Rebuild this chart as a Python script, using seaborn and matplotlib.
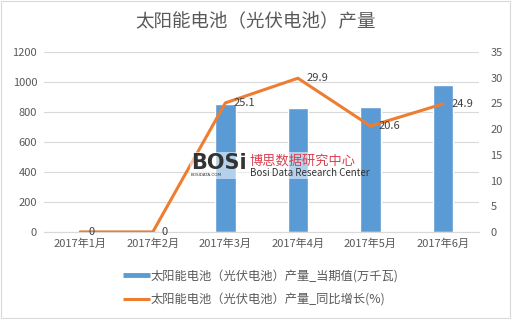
import numpy as np
import pandas as pd
import matplotlib
matplotlib.use("Agg")
import matplotlib.pyplot as plt
import seaborn as sns
from matplotlib.patches import Rectangle
from matplotlib.lines import Line2D

sns.set_style("white")
plt.rcParams['font.family'] = ['Noto Sans CJK SC', 'DejaVu Sans']

months = ["2017年1月", "2017年2月", "2017年3月", "2017年4月", "2017年5月", "2017年6月"]
output_vals = [0, 0, 850, 826, 833, 980]
growth_vals = [0, 0, 25.1, 29.9, 20.6, 24.9]
growth_labels = ["0", "0", "25.1", "29.9", "20.6", "24.9"]
bar_name = "太阳能电池（光伏电池）产量_当期值(万千瓦)"
line_name = "太阳能电池（光伏电池）产量_同比增长(%)"
title = "太阳能电池（光伏电池）产量"

df = pd.DataFrame({"month": months, "output": output_vals, "growth": growth_vals})

bar_color = "#5B9BD5"
line_color = "#ED7D31"
txt = "#595959"

fig = plt.figure(figsize=(5.12, 3.19), dpi=100)
ax = fig.add_axes([0.086, 0.273, 0.85, 0.564])
sns.barplot(data=df, x="month", y="output", color=bar_color, width=0.28,
            saturation=1, ax=ax)
ax.set_ylim(0, 1200)
ax.set_yticks(np.arange(0, 1201, 200))
ax.set_xlim(-0.5, 5.5)
ax.set_xlabel("")
ax.set_ylabel("")
ax.grid(axis="y", color="#D9D9D9", linewidth=0.8)
ax.set_axisbelow(True)
for s in ["top", "right", "left"]:
    ax.spines[s].set_visible(False)
ax.spines["bottom"].set_color("#D9D9D9")
ax.tick_params(axis="both", length=0, labelsize=8, colors=txt, pad=5)

ax2 = ax.twinx()
xpos = np.arange(len(months))
sns.lineplot(x=xpos, y=df["growth"].values, color=line_color, linewidth=2.2, ax=ax2)
ax2.set_ylim(0, 35)
ax2.set_yticks(np.arange(0, 36, 5))
ax2.set_xlim(-0.5, 5.5)
for s in ["top", "right", "left", "bottom"]:
    ax2.spines[s].set_visible(False)
ax2.tick_params(axis="y", length=0, labelsize=8, colors=txt, pad=8)
ax2.set_ylabel("")
for x, v, lab in zip(xpos, growth_vals, growth_labels):
    ax2.annotate(lab, (x, v), xytext=(6, 0), textcoords="offset points",
                 ha="left", va="center", fontsize=8, color="#404040")

fig.text(0.5, 0.93, title, ha="center", va="center", fontsize=13.3, color=txt)

# watermark
fig.patches.append(Rectangle((0.372, 0.44), 0.325, 0.085, transform=fig.transFigure,
                             facecolor="white", edgecolor="none", alpha=0.55, zorder=5))
fig.text(0.373, 0.49, "BOSi", fontsize=15, fontweight="bold", color="#333333",
         ha="left", va="center", family="DejaVu Sans", zorder=6)
fig.text(0.373, 0.452, "BOSIDATA.COM", fontsize=3, color="#333333",
         ha="left", va="center", family="DejaVu Sans", zorder=6)
fig.text(0.488, 0.495, "博思数据研究中心", fontsize=9.5, color="#D9414F",
         ha="left", va="center", zorder=6)
fig.text(0.488, 0.457, "Bosi Data Research Center", fontsize=7, color="#333333",
         ha="left", va="center", zorder=6)

handles = [Line2D([0], [0], color=bar_color, linewidth=3.5, solid_capstyle="butt"),
           Line2D([0], [0], color=line_color, linewidth=2.2, solid_capstyle="butt")]
fig.legend(handles, [bar_name, line_name], loc="upper left",
           bbox_to_anchor=(0.24, 0.155), frameon=False, fontsize=8.8,
           handlelength=2.2, handletextpad=0.1, labelspacing=0.85,
           labelcolor=txt, borderaxespad=0, borderpad=0)

fig.patches.append(Rectangle((0.002, 0.003), 0.994, 0.994, transform=fig.transFigure,
                             fill=False, edgecolor="#D9D9D9", linewidth=0.8))

fig.savefig("out.png", dpi=100)
